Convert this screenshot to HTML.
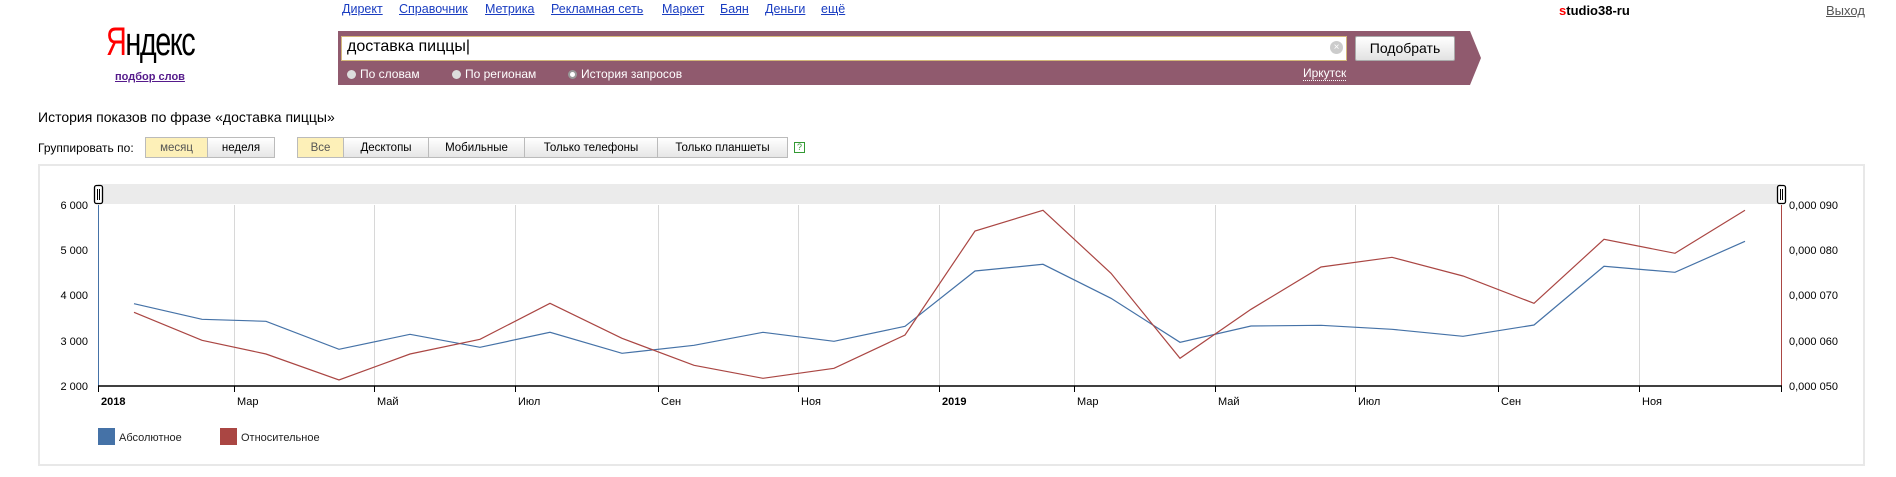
<!DOCTYPE html>
<html><head><meta charset="utf-8"><style>
body{margin:0;width:1896px;height:477px;background:#fff;font-family:"Liberation Sans",sans-serif;position:relative;overflow:hidden}
.a{position:absolute;white-space:nowrap}
.lnk{color:#1a3dc1;text-decoration:underline;font-size:12.5px}
.btn{position:absolute;top:137px;height:21px;border:1px solid #bbb;background:linear-gradient(#fff,#e6e6e6);font-size:11.5px;line-height:21px;text-align:center;box-sizing:border-box;color:#000}
.sel{background:#fdf0b8;color:#555}
.rad{position:absolute;top:67px;color:#fff;font-size:12px}
.rad i{display:inline-block;width:9px;height:9px;border-radius:50%;background:#ddd;margin-right:4px;vertical-align:-1px}
</style></head><body>
<div class="a lnk" style="left:342px;top:2px">Директ</div>
<div class="a lnk" style="left:399px;top:2px">Справочник</div>
<div class="a lnk" style="left:485px;top:2px">Метрика</div>
<div class="a lnk" style="left:551px;top:2px">Рекламная сеть</div>
<div class="a lnk" style="left:662px;top:2px">Маркет</div>
<div class="a lnk" style="left:720px;top:2px">Баян</div>
<div class="a lnk" style="left:765px;top:2px">Деньги</div>
<div class="a lnk" style="left:821px;top:2px">ещё</div>
<div class="a" style="left:106px;top:20px;font-size:40px;letter-spacing:-2px;transform:scaleX(0.72);transform-origin:left"><span style="color:#f00">Я</span>ндекс</div>
<div class="a" style="left:115px;top:71px;font-size:11px;font-weight:bold;color:#551a8b;text-decoration:underline">подбор слов</div>
<svg class="a" style="left:338px;top:31px" width="1145" height="54"><polygon points="0,0 1132,0 1143,27 1132,54 0,54" fill="#905a6e"/></svg>
<div class="a" style="left:341px;top:36px;width:1006px;height:25px;background:#fff;border:1px solid #d4b87a;box-sizing:border-box"></div>
<div class="a" style="left:347px;top:38px;font-size:16px">доставка пиццы|</div>
<div class="a" style="left:1330px;top:41px;width:13px;height:13px;border-radius:50%;background:#ccc;color:#fff;font-size:10px;line-height:13px;text-align:center">×</div>
<div class="a" style="left:1355px;top:36px;width:100px;height:25px;background:linear-gradient(#fff,#e2e2e2);border:1px solid #aaa;box-sizing:border-box;border-radius:2px;font-size:14px;line-height:23px;text-align:center">Подобрать</div>
<div class="rad" style="left:347px"><i></i>По словам</div>
<div class="rad" style="left:452px"><i></i>По регионам</div>
<div class="rad" style="left:568px"><i style="background:#fff;border:2px solid #999;width:5px;height:5px"></i>История запросов</div>
<div class="a" style="left:1303px;top:66px;font-size:12px;color:#fff;border-bottom:1px dotted #fff">Иркутск</div>
<div class="a" style="left:1559px;top:3px;font-size:13px;font-weight:bold"><span style="color:#f00">s</span>tudio38-ru</div>
<div class="a" style="left:1826px;top:3px;font-size:13px;color:#555;text-decoration:underline">Выход</div>
<div class="a" style="left:38px;top:109px;font-size:14px">История показов по фразе «доставка пиццы»</div>
<div class="a" style="left:38px;top:141px;font-size:12px">Группировать по:</div>
<div class="btn sel" style="left:145px;width:63px">месяц</div>
<div class="btn" style="left:207px;width:68px">неделя</div>
<div class="btn sel" style="left:297px;width:47px">Все</div>
<div class="btn" style="left:343px;width:86px">Десктопы</div>
<div class="btn" style="left:428px;width:97px">Мобильные</div>
<div class="btn" style="left:524px;width:134px">Только телефоны</div>
<div class="btn" style="left:657px;width:131px">Только планшеты</div>
<div class="a" style="left:794px;top:142px;width:9px;height:9px;border:1px solid #393;font-size:9px;line-height:9px;text-align:center;color:#393">?</div>
<div class="a" style="left:38px;top:164px;width:1827px;height:302px;border:2px solid #e8e8e8;box-sizing:border-box"></div>
<svg class="a" style="left:0;top:0" width="1896" height="477" font-family="Liberation Sans, sans-serif" font-size="11">
<rect x="98" y="184" width="1683" height="20" fill="#ebebeb"/>
<g stroke="#d8d8d8" stroke-width="1">
<line x1="234.5" y1="205" x2="234.5" y2="386"/><line x1="374.5" y1="205" x2="374.5" y2="386"/><line x1="515.5" y1="205" x2="515.5" y2="386"/><line x1="658.5" y1="205" x2="658.5" y2="386"/><line x1="798.5" y1="205" x2="798.5" y2="386"/><line x1="939.5" y1="205" x2="939.5" y2="386"/><line x1="1074.5" y1="205" x2="1074.5" y2="386"/><line x1="1215.5" y1="205" x2="1215.5" y2="386"/><line x1="1355.5" y1="205" x2="1355.5" y2="386"/><line x1="1498.5" y1="205" x2="1498.5" y2="386"/><line x1="1639.5" y1="205" x2="1639.5" y2="386"/>
</g>
<line x1="98.5" y1="205" x2="98.5" y2="386" stroke="#4572a7"/>
<line x1="1781.5" y1="205" x2="1781.5" y2="386" stroke="#aa4643"/>
<line x1="98" y1="386" x2="1782" y2="386" stroke="#000" stroke-width="1.5"/>
<g stroke="#000"><line x1="98.5" y1="386" x2="98.5" y2="392"/><line x1="234.5" y1="386" x2="234.5" y2="392"/><line x1="374.5" y1="386" x2="374.5" y2="392"/><line x1="515.5" y1="386" x2="515.5" y2="392"/><line x1="658.5" y1="386" x2="658.5" y2="392"/><line x1="798.5" y1="386" x2="798.5" y2="392"/><line x1="939.5" y1="386" x2="939.5" y2="392"/><line x1="1074.5" y1="386" x2="1074.5" y2="392"/><line x1="1215.5" y1="386" x2="1215.5" y2="392"/><line x1="1355.5" y1="386" x2="1355.5" y2="392"/><line x1="1498.5" y1="386" x2="1498.5" y2="392"/><line x1="1639.5" y1="386" x2="1639.5" y2="392"/><line x1="1781.5" y1="386" x2="1781.5" y2="392"/></g>
<g text-anchor="end" fill="#000"><text x="88" y="209">6 000</text><text x="88" y="254">5 000</text><text x="88" y="299">4 000</text><text x="88" y="345">3 000</text><text x="88" y="390">2 000</text></g>
<g fill="#000"><text x="1789" y="209">0,000 090</text><text x="1789" y="254">0,000 080</text><text x="1789" y="299">0,000 070</text><text x="1789" y="345">0,000 060</text><text x="1789" y="390">0,000 050</text></g>
<g fill="#000"><text x="101" y="405" font-weight="bold">2018</text><text x="237" y="405">Мар</text><text x="377" y="405">Май</text><text x="518" y="405">Июл</text><text x="661" y="405">Сен</text><text x="801" y="405">Ноя</text><text x="942" y="405" font-weight="bold">2019</text><text x="1077" y="405">Мар</text><text x="1218" y="405">Май</text><text x="1358" y="405">Июл</text><text x="1501" y="405">Сен</text><text x="1642" y="405">Ноя</text></g>
<polyline fill="none" stroke="#4572a7" stroke-width="1.2" points="134,303.7 202,319.3 266,321.3 339,349.3 410,334.3 480,347.3 550,332.3 622,353.3 694,345.3 763,332.3 834,341.3 905,326.3 975,271 1043,264.3 1111,298.3 1180,342.3 1251,326 1321,325.3 1392,329.3 1463,336.3 1534,325 1604,266.3 1675,272.3 1745,241.3"/>
<polyline fill="none" stroke="#aa4643" stroke-width="1.2" points="134,312.3 202,340.3 266,354 339,380 410,354 480,339.3 550,303.3 622,338.3 694,365.3 763,378.3 834,368.3 905,335 975,231 1043,210.3 1111,273.3 1180,358.3 1251,309.3 1321,267 1392,257.3 1463,276 1534,303.3 1604,239.3 1675,253.3 1745,210.3"/>
<g fill="#fff" stroke="#000" stroke-width="1.3"><rect x="94.5" y="185.5" width="8" height="18" rx="2"/><rect x="1777.5" y="185.5" width="8" height="18" rx="2"/></g>
<g stroke="#000"><line x1="97.5" y1="189" x2="97.5" y2="200"/><line x1="99.5" y1="189" x2="99.5" y2="200"/><line x1="1780.5" y1="189" x2="1780.5" y2="200"/><line x1="1782.5" y1="189" x2="1782.5" y2="200"/></g>
<rect x="98" y="428" width="17" height="17" fill="#4572a7"/><text x="119" y="441" fill="#222">Абсолютное</text>
<rect x="220" y="428" width="17" height="17" fill="#aa4643"/><text x="241" y="441" fill="#222">Относительное</text>
</svg>
</body></html>
